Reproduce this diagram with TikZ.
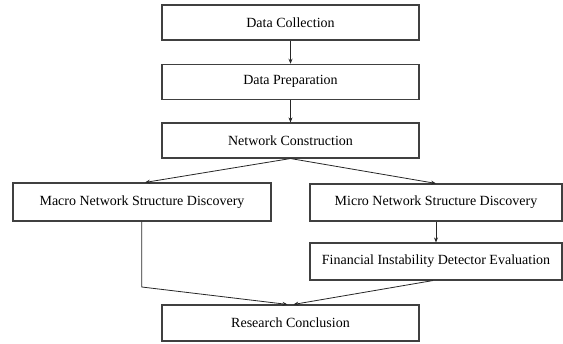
\documentclass[tikz,border=0pt]{standalone}
\usepackage{fontspec}
\setmainfont{Liberation Serif}
\usetikzlibrary{arrows.meta}
\begin{document}
\begin{tikzpicture}[x=1pt,y=1pt,
  stagebox/.style={draw=black!75, line width=1.1pt, fill=white, rectangle, inner sep=0pt,
    minimum height=35pt, font=\fontsize{14}{16}\selectfont},
  flow/.style={draw=black!85, line width=0.8pt, -{Stealth[length=5pt,width=4pt]}}]
\useasboundingbox (0,0) rectangle (563,344);
\node[stagebox, minimum width=257pt] (dc) at (290.5,321.5) {Data Collection};
\node[stagebox, minimum width=257pt] (dp) at (290.5,262.2) {Data Preparation};
\node[stagebox, minimum width=257pt] (nc) at (290.5,203.5) {Network Construction};
\node[stagebox, minimum width=258pt, minimum height=38pt] (macro) at (142,142) {Macro Network Structure Discovery};
\node[stagebox, minimum width=252pt, minimum height=37pt] (micro) at (436,141.5) {Micro Network Structure Discovery};
\node[stagebox, minimum width=252pt, minimum height=37pt] (fin) at (436,82.5) {Financial Instability Detector Evaluation};
\node[stagebox, minimum width=257pt, minimum height=36pt] (rc) at (290.5,21) {Research Conclusion};
\coordinate (bend) at (141.7,57);
\draw[flow] (dc.south) -- (dp.north);
\draw[flow] (dp.south) -- (nc.north);
\draw[flow] (nc.south) -- ([xshift=3pt]macro.north);
\draw[flow] (nc.south) -- (micro.north);
\draw[flow] (micro.south) -- (fin.north);
\draw[flow] (macro.south -| bend) -- (bend) -- ([xshift=-3pt]rc.north);
\draw[flow] ([xshift=-3pt]fin.south) -- ([xshift=3pt]rc.north);
\end{tikzpicture}
\end{document}
